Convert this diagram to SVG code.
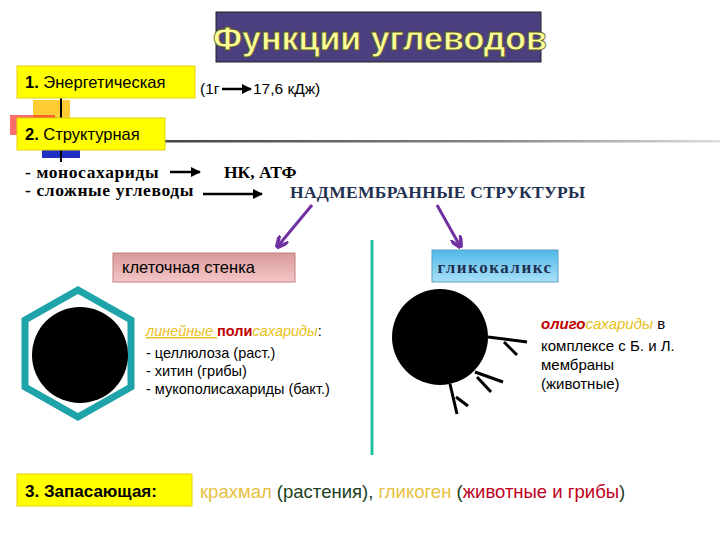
<svg xmlns="http://www.w3.org/2000/svg" width="720" height="540" viewBox="0 0 720 540">
<style>
.s{font-family:"Liberation Sans",Arial,sans-serif}
.b{font-weight:bold}
.sr{font-family:"Liberation Serif","Times New Roman",serif;font-weight:bold}
.yb{fill:#ffff00;stroke:#e8d000;stroke-width:1}
.k{stroke:#000;stroke-width:2.5;fill:none}
.p{stroke:#7030a0;stroke-width:3;fill:none}
</style>
<defs>
<marker id="ah" viewBox="0 0 10 10" refX="9" refY="5" markerWidth="4" markerHeight="4" orient="auto"><path d="M0,0L10,5L0,10z" fill="#000"/></marker>
<marker id="ap" viewBox="0 0 10 10" refX="8" refY="5" markerWidth="4" markerHeight="4" orient="auto"><path d="M0,0L10,5L0,10" fill="none" stroke="#7030a0" stroke-width="3"/></marker>
<linearGradient id="pink" x1="0" y1="0" x2="0" y2="1"><stop offset="0" stop-color="#d99a9a"/><stop offset="1" stop-color="#f5c6c6"/></linearGradient>
<linearGradient id="blue" x1="0" y1="0" x2="0" y2="1"><stop offset="0" stop-color="#4fb8e8"/><stop offset="1" stop-color="#a8e0f8"/></linearGradient>
<linearGradient id="gl" x1="0" y1="0" x2="1" y2="0"><stop offset="0" stop-color="#444"/><stop offset="0.6" stop-color="#888"/><stop offset="1" stop-color="#ddd"/></linearGradient>
</defs>
<g id="title">
<rect x="216" y="12" width="325" height="50" fill="#4b3f7f" stroke="#222" stroke-width="1"/>
<text x="380" y="50" text-anchor="middle" class="s b" font-size="34" fill="#ffff99" stroke="#5a5a20" stroke-width="0.8">Функции углеводов</text>
</g>
<g id="decor">
<rect x="33" y="100" width="37" height="20" fill="#ffc000" opacity="0.8"/>
<rect x="10" y="115" width="45" height="20" fill="#ff3030" opacity="0.7"/>
<rect x="42" y="148" width="38" height="10" fill="#2030c0"/>
<line x1="61" y1="98" x2="61" y2="162" stroke="#000" stroke-width="2"/>
<rect x="165" y="140" width="555" height="2.5" fill="url(#gl)"/>
<line x1="372" y1="240" x2="372" y2="455" stroke="#20c0a0" stroke-width="3"/>
</g>
<g id="n1">
<rect x="17" y="66" width="178" height="32" class="yb"/>
<text x="25" y="88" class="s" font-size="16.5"><tspan class="b">1.</tspan> Энергетическая</text>
</g>
<g id="energy">
<text x="200" y="94" class="s" font-size="15.5">(1г</text>
<text x="253" y="94" class="s" font-size="15.5">17,6 кДж)</text>
</g>
<g id="n2">
<rect x="17" y="118" width="148" height="32" class="yb"/>
<text x="25" y="140" class="s" font-size="16.5"><tspan class="b">2.</tspan> Структурная</text>
</g>
<g id="structural">
<text x="25" y="178" class="sr" font-size="17.5" letter-spacing="0.6">- моносахариды</text>
<text x="224" y="178" class="sr" font-size="17.5">НК, АТФ</text>
<text x="25" y="196" class="sr" font-size="17.5" letter-spacing="0.6">- сложные углеводы</text>
<text x="290" y="198" class="sr" font-size="17.5" fill="#1f3050" letter-spacing="0.3">НАДМЕМБРАННЫЕ СТРУКТУРЫ</text>
</g>
<g id="connectors">
<line x1="222" y1="89" x2="251" y2="89" class="k" marker-end="url(#ah)"/>
<line x1="170" y1="172" x2="200" y2="172" class="k" marker-end="url(#ah)"/>
<line x1="203" y1="194" x2="262" y2="194" class="k" marker-end="url(#ah)"/>
<line x1="312" y1="205" x2="278" y2="246" class="p" marker-end="url(#ap)"/>
<line x1="437" y1="205" x2="460" y2="246" class="p" marker-end="url(#ap)"/>
</g>
<g id="cellwall">
<rect x="113" y="253" width="182" height="29" fill="url(#pink)" stroke="#c08080" stroke-width="1"/>
<text x="122" y="273" class="s" font-size="16.5">клеточная стенка</text>
<polygon points="78,290 131,320 131,387 78,417 25,387 25,320" fill="none" stroke="#1ea3a8" stroke-width="7"/>
<circle cx="80" cy="355" r="48" fill="#000"/>
<text x="146" y="336" class="s" font-size="14.5"><tspan fill="#e8c020" font-style="italic" text-decoration="underline"> линейные </tspan><tspan fill="#c00000" class="b">поли</tspan><tspan fill="#e8c020" font-style="italic">сахариды</tspan>:</text>
<text x="146" y="358" class="s" font-size="14.5">- целлюлоза (раст.)</text>
<text x="146" y="376" class="s" font-size="14.5">- хитин (грибы)</text>
<text x="146" y="394" class="s" font-size="14.5">- мукополисахариды (бакт.)</text>
</g>
<g id="glyco">
<rect x="432" y="250" width="126" height="32" fill="url(#blue)" stroke="#60a0c0" stroke-width="1"/>
<text x="495" y="273" text-anchor="middle" class="sr" font-size="17" fill="#1f3050" letter-spacing="1.5">гликокаликс</text>
<circle cx="440" cy="337" r="48" fill="#000"/>
<g stroke="#000" stroke-width="3">
<line x1="488" y1="337" x2="527" y2="342"/><line x1="504" y1="342" x2="517" y2="355"/>
<line x1="475" y1="372" x2="503" y2="382"/><line x1="477" y1="377" x2="491" y2="392"/>
<line x1="450" y1="384" x2="457" y2="414"/><line x1="456" y1="397" x2="468" y2="406"/>
</g>
<text x="541" y="329" class="s" font-size="15"><tspan fill="#c00000" class="b" font-style="italic">олиго</tspan><tspan fill="#e8c020" font-style="italic">сахариды</tspan> в</text>
<text x="541" y="351" class="s" font-size="15">комплексе с Б. и Л.</text>
<text x="541" y="370" class="s" font-size="15">мембраны</text>
<text x="541" y="389" class="s" font-size="15">(животные)</text>
</g>
<g id="n3">
<rect x="17" y="474" width="175" height="32" class="yb"/>
<text x="25" y="497" class="s b" font-size="17">3. Запасающая:</text>
<text x="200" y="498" class="s" font-size="18.5"><tspan fill="#e8c040">крахмал</tspan><tspan fill="#204020"> (растения), </tspan><tspan fill="#e8c040">гликоген</tspan><tspan fill="#204020"> (</tspan><tspan fill="#c00020">животные и грибы</tspan><tspan fill="#204020">)</tspan></text>
</g>
</svg>
